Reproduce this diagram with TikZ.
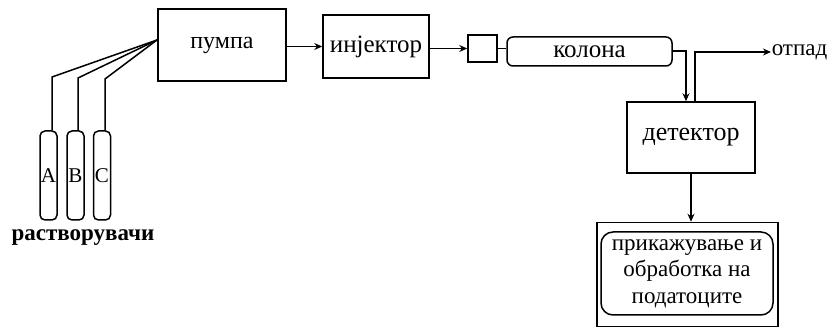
\documentclass[tikz,border=0pt]{standalone}
\usepackage{fontspec}
\setmainfont{Liberation Serif}
\usetikzlibrary{arrows.meta}
\begin{document}
\begin{tikzpicture}[x=1pt,y=-1pt,
  line width=1.5pt,
  box/.style={draw,rectangle,inner sep=0pt},
  tube/.style={draw,rectangle,rounded corners=5pt,minimum width=17pt,minimum height=89pt,inner sep=0pt},
  tubelbl/.style={font=\fontsize{21}{24}\selectfont,inner sep=0pt},
  arr/.style={-{Stealth[length=8pt,width=7pt]}}]
\useasboundingbox (0,0) rectangle (835,328);
% boxes
\node[box,minimum width=128pt,minimum height=72pt,font=\fontsize{24}{28}\selectfont] (pump) at (222,45) {пумпа};
\node[box,minimum width=106pt,minimum height=63pt,font=\fontsize{25}{28}\selectfont] (inj) at (376,46.5) {инјектор};
\node[box,minimum width=29pt,minimum height=27pt] (small) at (482.5,48.5) {};
\node[box,rounded corners=6pt,minimum width=165pt,minimum height=29pt,font=\fontsize{25}{28}\selectfont] (col) at (589.5,51.5) {колона};
\node[box,minimum width=128pt,minimum height=71pt,font=\fontsize{26}{30}\selectfont] (det) at (691,137.5) {детектор};
\node[box,minimum width=181pt,minimum height=104pt] (disp) at (687.5,274.5) {};
\node[box,rounded corners=12pt,minimum width=172pt,minimum height=83pt,align=center,inner sep=0pt,font=\fontsize{23}{26.5}\selectfont] (dispin) at (687,273.5) {прикажување и\\обработка на\\податоците};
\node[font=\fontsize{23}{26}\selectfont,anchor=west,inner sep=0pt] (waste) at (771,52) {отпад};
% tubes
\node[tube] (tA) at (48.5,175.5) {};
\node[tube] (tB) at (75.5,175.5) {};
\node[tube] (tC) at (102,175.5) {};
\node[tubelbl] (lA) at (tA) {A};
\node[tubelbl] (lB) at (tB) {B};
\node[tubelbl] (lC) at (tC) {C};
\node[font=\bfseries\fontsize{23}{26}\selectfont,inner sep=0pt] (solv) at (83,238) {растворувачи};
% tube lines
\coordinate (pin) at (157,40);
\coordinate (bA) at (52,77);
\coordinate (bB) at (78,78);
\coordinate (bC) at (105,79);
\draw (tA.north -| bA) -- (bA) -- (pin);
\draw (tB.north -| bB) -- (bB) -- (pin);
\draw (tC.north -| bC) -- (bC) -- (pin);
% flow
\draw[arr] (pump.east |- inj.west) -- (inj.west);
\draw[arr] (inj.east |- small.west) -- (small.west);
\draw (small.east) -- (small.east -| col.west);
\coordinate (cd) at (686,51);
\draw[arr] (col.east |- cd) -- (cd) -- (cd |- det.north);
\coordinate (wo) at (695,52);
\draw[arr] (wo |- det.north) -- (wo) -- (waste.west);
\draw[arr] (det.south) -- (det.south |- disp.north);
\end{tikzpicture}
\end{document}
